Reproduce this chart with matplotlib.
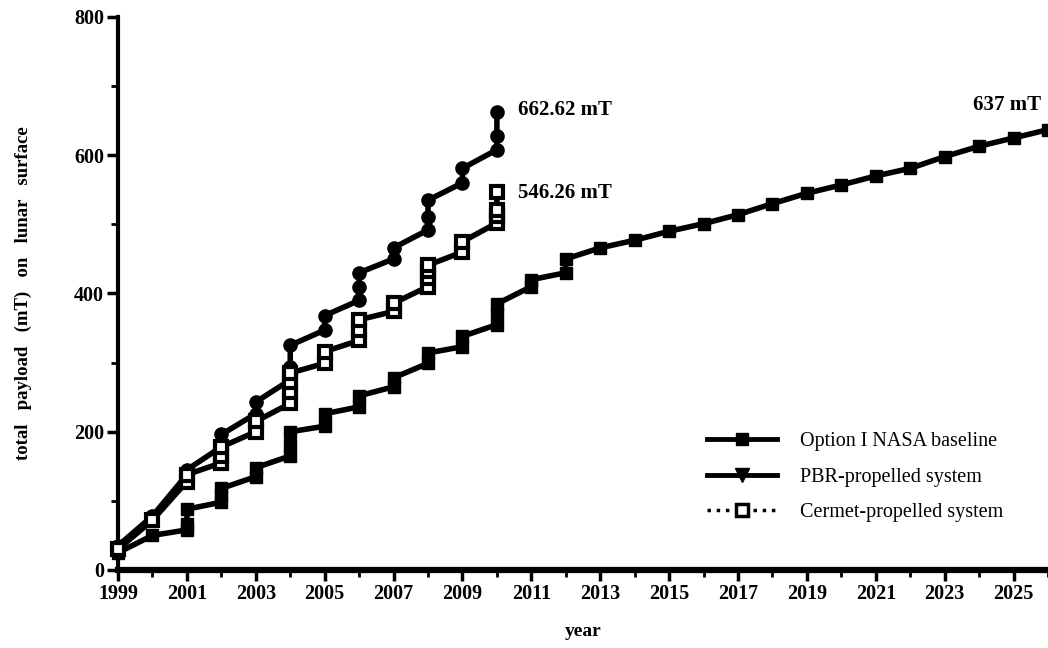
import matplotlib
matplotlib.use('Agg')
import matplotlib.pyplot as plt
from matplotlib.lines import Line2D
from matplotlib.ticker import MultipleLocator

plt.rcParams['font.family'] = ['Liberation Serif', 'DejaVu Serif']

# cumulative payload per year (several launches in one year -> repeated year)
nasa_years = [1999, 2000, 2001, 2001, 2001, 2002, 2002, 2002, 2003, 2003,
              2004, 2004, 2004, 2005, 2005, 2006, 2006, 2007, 2007, 2008, 2008,
              2009, 2009, 2010, 2010, 2010, 2011, 2011, 2012, 2012, 2013, 2014,
              2015, 2016, 2017, 2018, 2019, 2020, 2021, 2022, 2023, 2024, 2025, 2026]
nasa_payload = [25, 50, 58, 66, 88, 98, 108, 118, 135, 148,
                165, 181, 200, 208, 226, 236, 252, 265, 278, 299, 314,
                323, 338, 355, 370, 385, 410, 420, 430, 450, 466, 477,
                490, 501, 514, 530, 545, 557, 570, 581, 598, 613, 625, 637]

pbr_years = [1999, 2000, 2001, 2001, 2002, 2002, 2003, 2003, 2004, 2004, 2004,
             2005, 2005, 2006, 2006, 2006, 2007, 2007, 2008, 2008, 2008,
             2009, 2009, 2010, 2010, 2010]
pbr_payload = [35, 78, 138, 145, 178, 196, 226, 243, 275, 294, 325,
               347, 368, 390, 410, 430, 450, 466, 492, 511, 535,
               560, 581, 608, 628, 662.62]

cermet_years = [1999, 2000, 2001, 2001, 2002, 2002, 2002, 2003, 2003,
                2004, 2004, 2004, 2004, 2005, 2005, 2006, 2006, 2006,
                2007, 2007, 2008, 2008, 2008, 2008, 2009, 2009,
                2010, 2010, 2010, 2010]
cermet_payload = [30, 72, 128, 138, 155, 165, 178, 200, 215,
                  241, 258, 272, 285, 299, 316, 332, 347, 362,
                  374, 386, 410, 422, 432, 441, 460, 475,
                  502, 512, 521, 546.26]

labels = ['Option I NASA baseline', 'PBR-propelled system', 'Cermet-propelled system']

fig = plt.figure(figsize=(10.48, 6.48), dpi=100)
ax = fig.add_axes([0.1126, 0.1204, 0.8874, 0.8534])

ax.plot(nasa_years, nasa_payload, color='black', lw=4, marker='s', ms=9,
        mfc='black', mec='black', clip_on=False, zorder=3)
ax.plot(pbr_years, pbr_payload, color='black', lw=4, marker='o', ms=9.5,
        mfc='black', mec='black', clip_on=False, zorder=4)
ax.plot(cermet_years, cermet_payload, color='black', lw=4, marker='s', ms=8,
        mfc='white', mec='black', mew=3, clip_on=False, zorder=5)

ax.text(2010.6, 665, '662.62 mT', fontsize=15, fontweight='bold', va='center', ha='left')
ax.text(2010.6, 546, '546.26 mT', fontsize=15, fontweight='bold', va='center', ha='left')
ax.text(2025.8, 672, '637 mT', fontsize=15, fontweight='bold', va='center', ha='right')

ax.set_xlim(1999, 2026)
ax.set_ylim(0, 800)
ax.xaxis.set_minor_locator(MultipleLocator(1))
ax.yaxis.set_major_locator(MultipleLocator(200))
ax.yaxis.set_minor_locator(MultipleLocator(100))
ax.set_xticks(range(1999, 2026, 2))

for s in ['top', 'right']:
    ax.spines[s].set_visible(False)
ax.spines['left'].set_linewidth(3)
ax.spines['bottom'].set_linewidth(4.5)
ax.tick_params(which='major', direction='out', length=8, width=2.5, labelsize=14.5, pad=2)
ax.tick_params(which='minor', direction='out', length=5, width=2)
for t in ax.get_xticklabels() + ax.get_yticklabels():
    t.set_fontweight('bold')

ax.set_xlabel('year', fontsize=14, fontweight='bold', labelpad=14)
ax.set_ylabel('total   payload   (mT)   on   lunar   surface', fontsize=13.5,
              fontweight='bold', labelpad=30)

handles = [
    Line2D([], [], color='black', lw=3.5, marker='s', ms=8, mfc='black'),
    Line2D([], [], color='black', lw=3.5, marker='v', ms=10, mfc='black'),
    Line2D([], [], color='black', lw=2.5, ls=':', marker='s', ms=8, mfc='white', mew=2.5),
]
ax.legend(handles, labels, loc='upper left', bbox_to_anchor=(707 / 1048, 1 - 432 / 648),
          bbox_transform=fig.transFigure, frameon=False, fontsize=14.5,
          handlelength=3.5, handletextpad=1.1, labelspacing=0.82, borderpad=0, borderaxespad=0)

fig.savefig('out.png', dpi=100)
